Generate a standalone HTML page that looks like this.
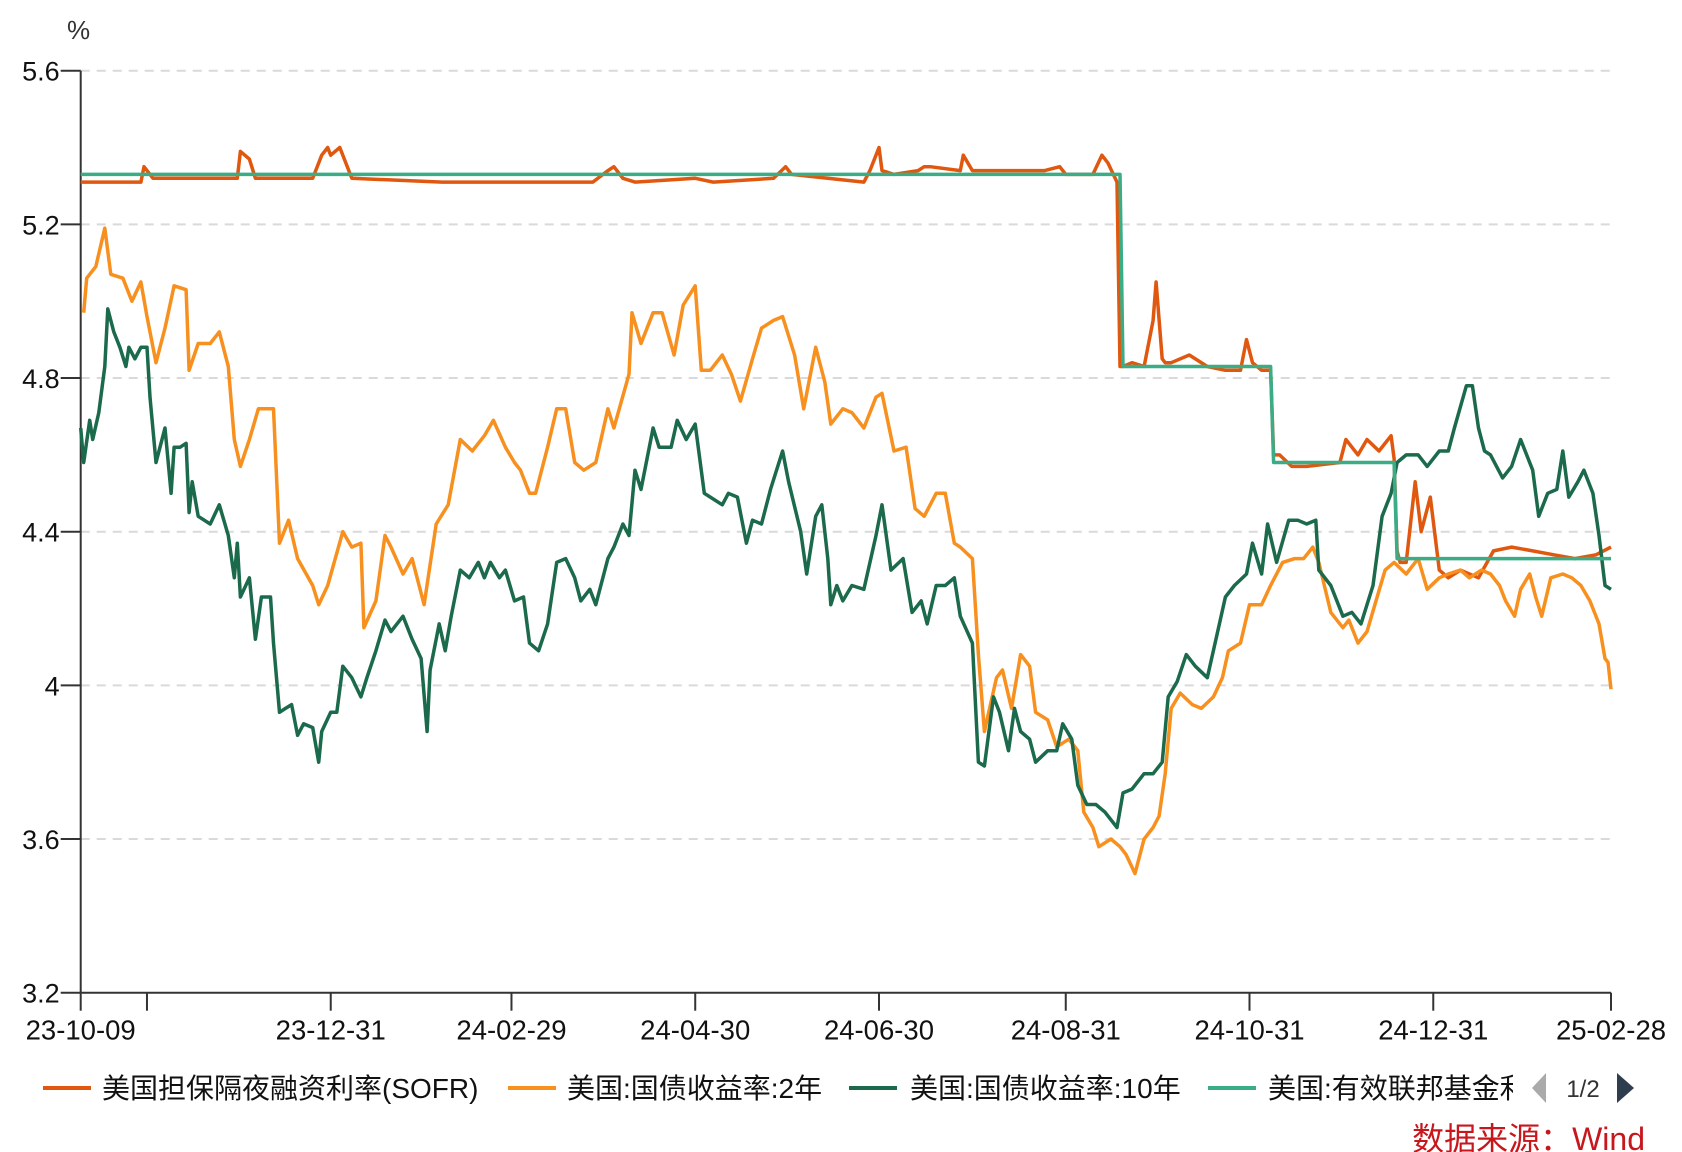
<!DOCTYPE html>
<html><head><meta charset="utf-8"><style>
html,body{margin:0;padding:0;background:#fff;}
svg{display:block;font-family:"Liberation Sans","Noto Sans CJK SC",sans-serif;}
</style></head><body>
<svg id="chart" width="1682" height="1152" viewBox="0 0 1682 1152">
<g id="grid"></g>
<g id="axes"></g>
<g id="series"></g>
<text x="67" y="39" font-size="26" fill="#333">%</text>
<g>
 <g><line x1="43" y1="1088" x2="91" y2="1088" stroke="#e0580f" stroke-width="4"/><text x="102" y="1098" font-size="28" fill="#111">美国担保隔夜融资利率(SOFR)</text></g>
 <g><line x1="508" y1="1088" x2="556" y2="1088" stroke="#f7901e" stroke-width="4"/><text x="567" y="1098" font-size="28" fill="#111">美国:国债收益率:2年</text></g>
 <g><line x1="849" y1="1088" x2="897" y2="1088" stroke="#1b6a4c" stroke-width="4"/><text x="910" y="1098" font-size="28" fill="#111">美国:国债收益率:10年</text></g>
 <g><line x1="1208" y1="1088" x2="1256" y2="1088" stroke="#3aac86" stroke-width="4"/>
  <svg x="1268" y="1060" width="245" height="50"><text x="0" y="38" font-size="28" fill="#111">美国:有效联邦基金利率</text></svg></g>
 <polygon points="1546,1073 1546,1103 1532,1088" fill="#aaa"/>
 <text x="1583" y="1097" font-size="24" fill="#333" text-anchor="middle">1/2</text>
 <polygon points="1617,1073 1617,1103 1634,1088" fill="#2f3e4e"/>
</g>
<text x="1645" y="1150" font-size="32" fill="#c8161d" text-anchor="end">数据来源：Wind</text>
</svg>
<script>
const startDate = "2023-10-09";
const yTicks = [5.6, 5.2, 4.8, 4.4, 4.0, 3.6, 3.2];
const yTickLabels = ["5.6","5.2","4.8","4.4","4","3.6","3.2"];
const xTickDays = [0, 22, 83, 143, 204, 265, 327, 388, 449, 508];
const xTickLabels = ["23-10-09","","23-12-31","24-02-29","24-04-30","24-06-30","24-08-31","24-10-31","24-12-31","25-02-28"];

const sofrDays = [0,14,20,21,24,40,52,53,56,58,62,70,77,78,80,82,83,86,90,120,170,175,177,180,184,204,210,230,234,236,260,262,264,265,266,270,278,280,282,292,293,296,320,325,327,336,339,341,344,345,346,349,353,356,357,359,360,362,368,374,380,385,387,389,392,395,396,397,398,402,407,418,420,424,427,431,435,436,437,438,440,443,445,448,451,454,458,464,469,475,482,489,496,503,508];
const sofrVals = [5.31,5.31,5.31,5.35,5.32,5.32,5.32,5.39,5.37,5.32,5.32,5.32,5.32,5.34,5.38,5.40,5.38,5.40,5.32,5.31,5.31,5.34,5.35,5.32,5.31,5.32,5.31,5.32,5.35,5.33,5.31,5.34,5.38,5.40,5.34,5.33,5.34,5.35,5.35,5.34,5.38,5.34,5.34,5.35,5.33,5.33,5.38,5.36,5.31,4.83,4.83,4.84,4.83,4.95,5.05,4.85,4.84,4.84,4.86,4.83,4.82,4.82,4.90,4.84,4.82,4.82,4.60,4.60,4.60,4.57,4.57,4.58,4.64,4.60,4.64,4.61,4.65,4.59,4.35,4.32,4.32,4.53,4.40,4.49,4.30,4.28,4.30,4.28,4.35,4.36,4.35,4.34,4.33,4.34,4.36];

const y2Days = [1,2,5,8,10,14,17,20,22,25,28,31,35,36,39,43,46,49,51,53,56,59,64,66,69,72,77,79,82,87,90,93,94,98,101,103,107,110,114,118,122,126,130,134,137,141,144,146,149,151,155,158,161,164,167,171,175,177,182,183,186,190,193,197,200,204,206,209,213,216,219,223,226,230,233,237,240,244,247,249,253,256,260,264,266,270,274,277,280,284,287,290,292,296,298,300,304,306,309,312,315,317,321,324,328,331,333,336,338,342,345,347,350,353,356,358,360,362,365,369,372,376,379,381,385,388,392,395,399,403,406,409,411,415,419,421,424,427,430,433,436,440,444,447,451,454,458,461,465,468,471,473,476,478,481,483,485,488,492,495,498,501,504,506,507,508];
const y2Vals = [4.97,5.06,5.09,5.19,5.07,5.06,5.00,5.05,4.96,4.84,4.93,5.04,5.03,4.82,4.89,4.89,4.92,4.83,4.64,4.57,4.64,4.72,4.72,4.37,4.43,4.33,4.26,4.21,4.26,4.40,4.36,4.37,4.15,4.22,4.39,4.36,4.29,4.33,4.21,4.42,4.47,4.64,4.61,4.65,4.69,4.62,4.58,4.56,4.50,4.50,4.62,4.72,4.72,4.58,4.56,4.58,4.72,4.67,4.81,4.97,4.89,4.97,4.97,4.86,4.99,5.04,4.82,4.82,4.86,4.81,4.74,4.85,4.93,4.95,4.96,4.86,4.72,4.88,4.79,4.68,4.72,4.71,4.67,4.75,4.76,4.61,4.62,4.46,4.44,4.50,4.50,4.37,4.36,4.33,4.08,3.88,4.02,4.04,3.94,4.08,4.05,3.93,3.91,3.84,3.86,3.83,3.67,3.63,3.58,3.60,3.58,3.56,3.51,3.60,3.63,3.66,3.77,3.94,3.98,3.95,3.94,3.97,4.02,4.09,4.11,4.21,4.21,4.26,4.32,4.33,4.33,4.36,4.32,4.19,4.15,4.17,4.11,4.14,4.22,4.30,4.32,4.29,4.33,4.25,4.28,4.29,4.30,4.28,4.30,4.29,4.26,4.22,4.18,4.25,4.29,4.23,4.18,4.28,4.29,4.28,4.26,4.22,4.16,4.07,4.06,3.99];

const y10Days = [0,1,3,4,6,8,9,11,13,15,16,18,20,22,23,25,28,30,31,33,35,36,37,39,43,46,49,51,52,53,56,58,60,63,64,66,68,70,72,74,77,79,80,83,85,87,90,93,95,98,101,103,107,110,113,115,116,119,121,123,126,129,132,134,136,139,141,144,147,149,152,155,158,161,164,166,169,171,175,177,180,182,184,186,190,192,196,198,201,204,207,209,213,215,218,221,223,226,229,233,235,239,241,244,246,248,249,251,253,256,260,264,266,269,273,276,279,281,284,287,290,292,296,298,300,303,305,308,310,312,315,317,321,324,326,329,331,334,337,340,344,346,349,353,356,359,361,364,367,370,374,378,380,383,387,389,392,394,397,401,404,407,410,411,415,419,422,425,429,432,435,437,440,444,447,451,454,456,460,462,464,466,468,472,475,478,482,484,487,490,492,494,497,499,502,504,506,508];
const y10Vals = [4.67,4.58,4.69,4.64,4.71,4.83,4.98,4.92,4.88,4.83,4.88,4.85,4.88,4.88,4.75,4.58,4.67,4.50,4.62,4.62,4.63,4.45,4.53,4.44,4.42,4.47,4.39,4.28,4.37,4.23,4.28,4.12,4.23,4.23,4.11,3.93,3.94,3.95,3.87,3.90,3.89,3.80,3.88,3.93,3.93,4.05,4.02,3.97,4.02,4.09,4.17,4.14,4.18,4.12,4.07,3.88,4.04,4.16,4.09,4.18,4.30,4.28,4.32,4.28,4.32,4.28,4.30,4.22,4.23,4.11,4.09,4.16,4.32,4.33,4.28,4.22,4.25,4.21,4.33,4.36,4.42,4.39,4.56,4.51,4.67,4.62,4.62,4.69,4.64,4.68,4.50,4.49,4.47,4.50,4.49,4.37,4.43,4.42,4.51,4.61,4.53,4.40,4.29,4.44,4.47,4.33,4.21,4.26,4.22,4.26,4.25,4.39,4.47,4.30,4.33,4.19,4.22,4.16,4.26,4.26,4.28,4.18,4.11,3.80,3.79,3.97,3.93,3.83,3.94,3.88,3.86,3.80,3.83,3.83,3.90,3.86,3.74,3.69,3.69,3.67,3.63,3.72,3.73,3.77,3.77,3.80,3.97,4.01,4.08,4.05,4.02,4.16,4.23,4.26,4.29,4.37,4.29,4.42,4.32,4.43,4.43,4.42,4.43,4.30,4.26,4.18,4.19,4.16,4.26,4.44,4.50,4.58,4.60,4.60,4.57,4.61,4.61,4.67,4.78,4.78,4.67,4.61,4.60,4.54,4.57,4.64,4.56,4.44,4.50,4.51,4.61,4.49,4.53,4.56,4.50,4.39,4.26,4.25];

const effrDays = [0,345,346,395,396,436,437,508];
const effrVals = [5.33,5.33,4.83,4.83,4.58,4.58,4.33,4.33];

const X0 = 80.7, X1 = 1611, Y0 = 70.7, Y1 = 992.7, DMAX = 508, VMAX = 5.6, VMIN = 3.2;
function xs(d){ return X0 + d * (X1 - X0) / DMAX; }
function ys(v){ return Y0 + (VMAX - v) * (Y1 - Y0) / (VMAX - VMIN); }
const NS = "http://www.w3.org/2000/svg";
function mk(tag, attrs, parent){ const e = document.createElementNS(NS, tag); for (const k in attrs) e.setAttribute(k, attrs[k]); parent.appendChild(e); return e; }

const grid = document.getElementById('grid'), axes = document.getElementById('axes'), series = document.getElementById('series');
yTicks.forEach((v, i) => {
  if (v > VMIN) {
    const g = mk('line', {x1: X0, x2: X1, y1: ys(v), y2: ys(v), stroke: '#d9d9d9', 'stroke-width': 2, 'stroke-dasharray': '9,7'}, grid);
    
    
  }
  const t = mk('line', {x1: X0 - 20, x2: X0, y1: ys(v), y2: ys(v), stroke: '#333', 'stroke-width': 2}, axes);
  
  
  const l = mk('text', {x: X0 - 21, y: ys(v) + 10, 'font-size': 27, 'text-anchor': 'end', fill: '#111'}, axes);
  l.textContent = yTickLabels[i];
  
  
});
const ya = mk('line', {x1: X0, x2: X0, y1: Y0, y2: Y1, stroke: '#333', 'stroke-width': 2}, axes);


const xa = mk('line', {x1: X0, x2: X1, y1: Y1, y2: Y1, stroke: '#333', 'stroke-width': 2}, axes);


xTickDays.forEach((d, i) => {
  const t = mk('line', {x1: xs(d), x2: xs(d), y1: Y1, y2: Y1 + 18, stroke: '#333', 'stroke-width': 2}, axes);
  
  
  if (xTickLabels[i]) {
    const l = mk('text', {x: xs(d), y: Y1 + 47, 'font-size': 27.5, 'text-anchor': 'middle', fill: '#111'}, axes);
    l.textContent = xTickLabels[i];
    
    
  }
});
function drawLine(days, vals, color, name){
  const d = days.map((dd, i) => (i ? 'L' : 'M') + xs(dd).toFixed(1) + ',' + ys(vals[i]).toFixed(1)).join('');
  const p = mk('path', {d: d, fill: 'none', stroke: color, 'stroke-width': 3.5, 'stroke-linejoin': 'round'}, series);
  
  
}
drawLine(sofrDays, sofrVals, '#e0580f', 'sofr-line');
drawLine(y2Days, y2Vals, '#f7901e', 'treasury-2y-line');
drawLine(y10Days, y10Vals, '#1b6a4c', 'treasury-10y-line');
drawLine(effrDays, effrVals, '#3aac86', 'effr-line');
</script>
</body></html>
